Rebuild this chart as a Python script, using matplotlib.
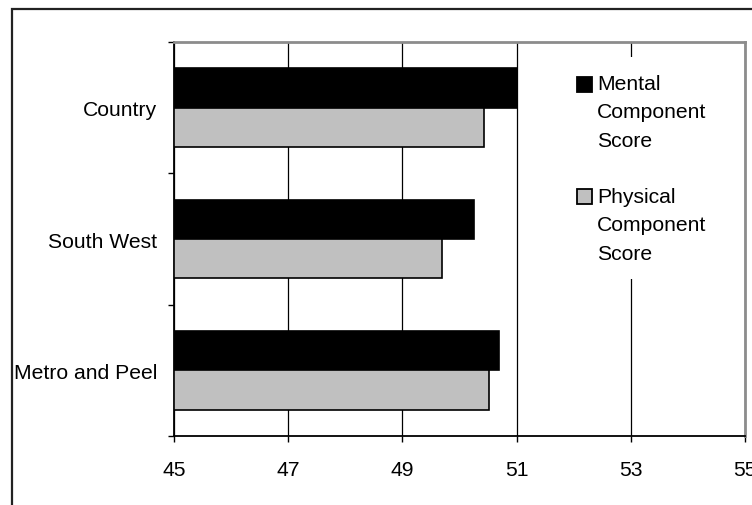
import matplotlib
matplotlib.use("Agg")
import matplotlib.pyplot as plt
from matplotlib.patches import Rectangle
import numpy as np

plt.rcParams['font.family'] = ['Liberation Sans', 'DejaVu Sans']

regions = ["Country", "South West", "Metro and Peel"]
mental = [51.0, 50.25, 50.69]
physical = [50.43, 49.69, 50.52]
series_names = ["Mental\nComponent\nScore", "Physical\nComponent\nScore"]
series_colors = ["#000000", "#C0C0C0"]
xticks = [45, 47, 49, 51, 53, 55]

FS = 15.2
W, H = 752, 506
fig = plt.figure(figsize=(W / 100, H / 100), dpi=100)


def fx(px):
    return px / W


def fy(py):
    return 1 - py / H


# plot area in pixel coordinates
left, right, top, bottom = 174, 745, 43, 437
ax = fig.add_axes([fx(left), fy(bottom), fx(right) - fx(left), fy(top) - fy(bottom)])

y = np.arange(len(regions))
h = 0.3
ax.barh(y - h / 2, np.array(mental) - 45, h, left=45, color=series_colors[0],
        edgecolor="black", linewidth=1.2, zorder=3)
ax.barh(y + h / 2, np.array(physical) - 45, h, left=45, color=series_colors[1],
        edgecolor="black", linewidth=1.2, zorder=3)

ax.set_xlim(45, 55)
ax.set_ylim(len(regions) - 0.5, -0.5)

ax.set_xticks(xticks)
ax.set_xticklabels([str(t) for t in xticks], fontsize=FS)
ax.tick_params(axis="x", direction="out", length=4, width=1, pad=13, colors="black")
ax.xaxis.grid(True, color="black", linewidth=0.9, zorder=0)
ax.set_axisbelow(True)

ax.set_yticks(y)
ax.set_yticklabels(regions, fontsize=FS)
ax.tick_params(axis="y", which="major", length=0, pad=12)
ax.set_yticks(np.arange(len(regions) + 1) - 0.5, minor=True)
ax.tick_params(axis="y", which="minor", direction="out", length=4, width=1)

for s in ["top", "right"]:
    ax.spines[s].set_color("#8c8c8c")
    ax.spines[s].set_linewidth(2)
for s in ["left", "bottom"]:
    ax.spines[s].set_color("black")
    ax.spines[s].set_linewidth(1.3)

# legend: white panel hiding grid lines, swatches and wrapped labels
fig.patches.append(Rectangle((fx(558), fy(280)), fx(736) - fx(558), fy(58) - fy(280),
                             transform=fig.transFigure, facecolor="white",
                             edgecolor="none", zorder=5))
swatch_tops = [78, 190]
text_tops = [75, 188]
for name, color, st, tt in zip(series_names, series_colors, swatch_tops, text_tops):
    fig.patches.append(Rectangle((fx(577), fy(st + 15)), fx(15), 15 / H,
                                 transform=fig.transFigure, facecolor=color,
                                 edgecolor="black", linewidth=1.3, zorder=6))
    fig.text(fx(597), fy(tt), name, fontsize=FS, va="top", ha="left",
             linespacing=1.62, zorder=7)

# outer chart border
fig.patches.append(Rectangle((fx(12), fy(H + 20)), fx(W + 20), fy(10) - fy(H + 20),
                             transform=fig.transFigure, facecolor="none",
                             edgecolor="#222222", linewidth=1.6, zorder=1))

fig.savefig("out.png", dpi=100)
